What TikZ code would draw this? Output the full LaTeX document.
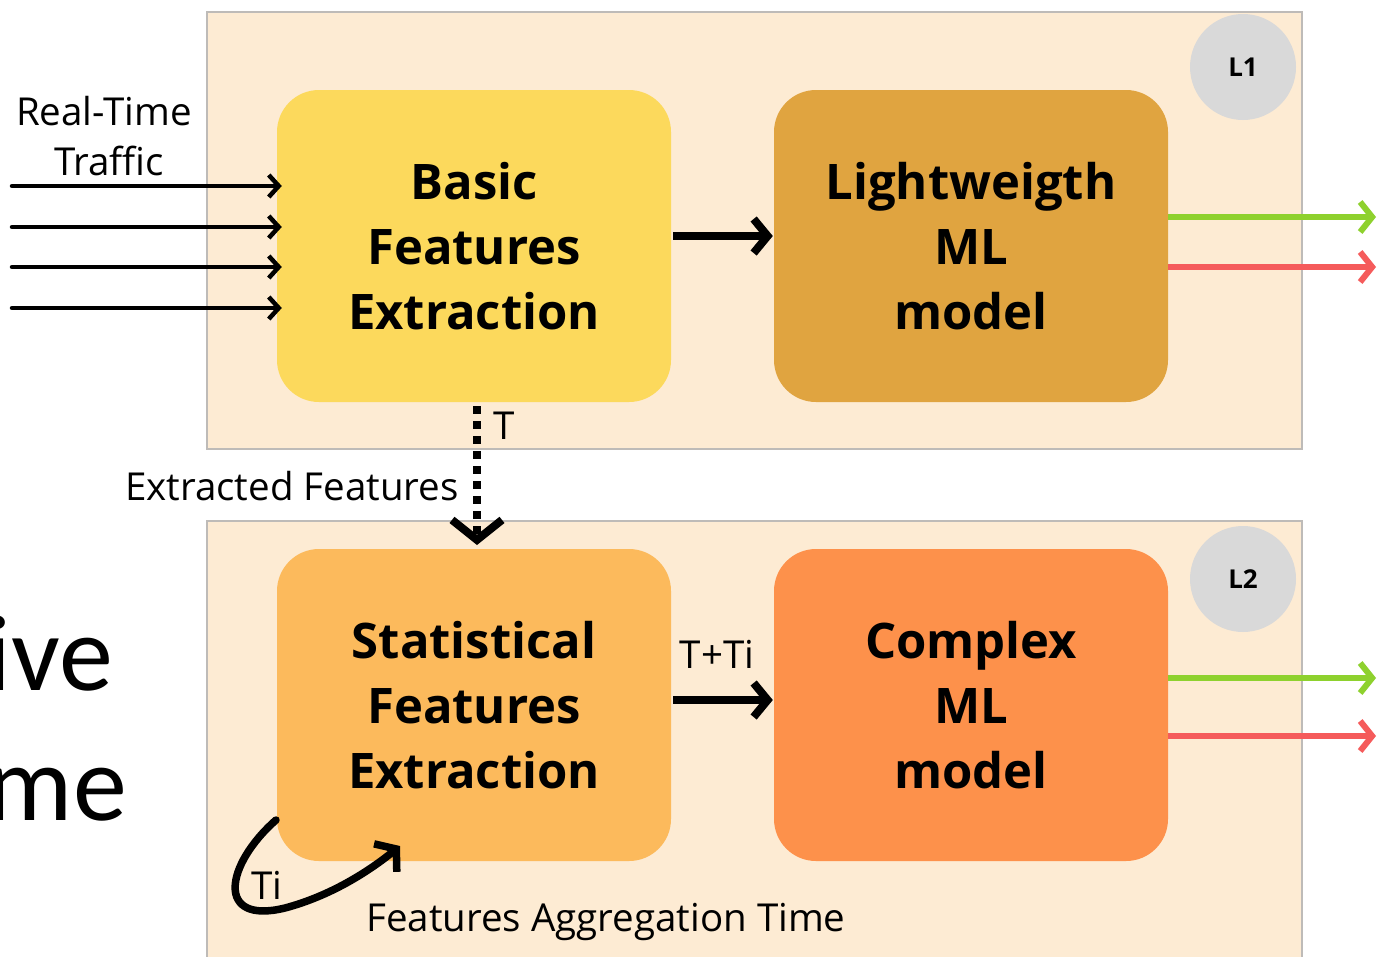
\documentclass[tikz,border=0pt]{standalone}
\usepackage{fontspec}
\setmainfont{Open Sans}
\newfontfamily\bigfont{Carlito}
\usetikzlibrary{arrows.meta}
\definecolor{frameback}{HTML}{FDEBD3}
\definecolor{framegray}{HTML}{BEBBB8}
\definecolor{basicc}{HTML}{FCD95C}
\definecolor{lightc}{HTML}{E0A440}
\definecolor{statc}{HTML}{FCBA5C}
\definecolor{complexc}{HTML}{FD914B}
\definecolor{circc}{HTML}{D9D9D9}
\definecolor{greenc}{HTML}{8ED12E}
\definecolor{redc}{HTML}{F55B5B}
\tikzset{
  frame/.style={draw=framegray, line width=2.5pt, fill=frameback},
  block/.style={rounded corners=42pt, inner sep=0pt, minimum width=394pt, minimum height=312pt,
    align=center, font=\fontsize{49}{65}\selectfont\bfseries},
  badge/.style={circle, fill=circc, minimum size=106pt, inner sep=0pt, font=\fontsize{26}{30}\selectfont\bfseries},
  inarrow/.style={line width=4.5pt, -{Straight Barb[length=10pt,width=22pt,line width=4.5pt]}, line cap=round},
  bigarrow/.style={line width=8pt, -{Straight Barb[length=14pt,width=34pt,line width=8pt]}},
  outg/.style={draw=greenc, line width=6pt, -{Straight Barb[length=12pt,width=30pt,line width=6pt]}},
  outr/.style={draw=redc, line width=6pt, -{Straight Barb[length=12pt,width=30pt,line width=6pt]}},
  lbl/.style={inner sep=0pt, font=\fontsize{38.5}{50}\selectfont},
}
\begin{document}
\begin{tikzpicture}[x=1pt,y=-1pt]
\useasboundingbox (0,0) rectangle (1378,956);
\begin{scope}
\clip (0,0) rectangle (1378,956);
% frames
\draw[frame] (207,12) rectangle (1302,449);
\draw[frame] (207,521) rectangle (1302,970);
% left cut-off text
\node[anchor=base east, inner sep=0pt, font=\bigfont\fontsize{108}{120}\selectfont] (ive) at (113,690) {ive};
\node[anchor=base east, inner sep=0pt, font=\bigfont\fontsize{108}{120}\selectfont] (me) at (127,820) {me};
\end{scope}
% blocks
\node[block, fill=basicc] (basic) at (474,246) {Basic\\Features\\Extraction};
\node[block, fill=lightc] (light) at (971,246) {Lightweigth\\ML\\model};
\node[block, fill=statc] (stat) at (474,705) {Statistical\\Features\\Extraction};
\node[block, fill=complexc] (complex) at (971,705) {Complex\\ML\\model};
% badges
\node[badge] (l1) at (1243,67) {L1};
\node[badge] (l2) at (1243,579) {L2};
% input traffic
\node[lbl, align=center, font=\fontsize{38.5}{50}\selectfont] (rt) at (104,136) {Real-Time\\\hspace*{10pt}Traffic};
\foreach \yy/\n in {186/a,227/b,267/c,308/d}{
  \coordinate (in\n) at (12,\yy);
  \draw[inarrow] (in\n) -- ([xshift=5pt]basic.west |- in\n);
}
% top inter-block arrow
\draw[bigarrow] ([xshift=2pt]basic.east |- 0,236) -- ([xshift=-1pt]light.west |- 0,236);
% outputs
\coordinate (og1) at (1376,217);
\coordinate (or1) at (1376,267);
\coordinate (og2) at (1376,678);
\coordinate (or2) at (1376,736);
\draw[outg] (light.east |- og1) -- (og1);
\draw[outr] (light.east |- or1) -- (or1);
\draw[outg] (complex.east |- og2) -- (og2);
\draw[outr] (complex.east |- or2) -- (or2);
% dotted arrow
\draw[line width=8pt, dash pattern=on 8pt off 7pt,
  -{Straight Barb[length=20pt,width=50pt,line width=8pt]}] (basic.south -| 477,0) ++(0,4) -- (477,545);
\node[lbl, anchor=center] (tlab) at (504,426) {T};
\node[lbl, anchor=east] (ext) at (459,486) {Extracted Features};
% bottom inter-block arrow
\draw[bigarrow] ([xshift=2pt]stat.east |- 0,700) -- ([xshift=-1pt]complex.west |- 0,700);
\node[lbl] (tti) at (717,654) {T+Ti};
% Ti curved arrow
\coordinate (cs) at (276,820);
\coordinate (ce) at (400,846);
\draw[line width=7.5pt, line cap=round, -{Straight Barb[length=14pt,width=36pt,line width=7.5pt]}]
  (cs) .. controls (225,865) and (215,925) .. (285,908) .. controls (330,896) and (368,872) .. (ce);
\node[lbl] (ti) at (267,885) {Ti};
\node[lbl, anchor=west] (fat) at (366,922) {Features Aggregation Time};
\end{tikzpicture}
\end{document}
